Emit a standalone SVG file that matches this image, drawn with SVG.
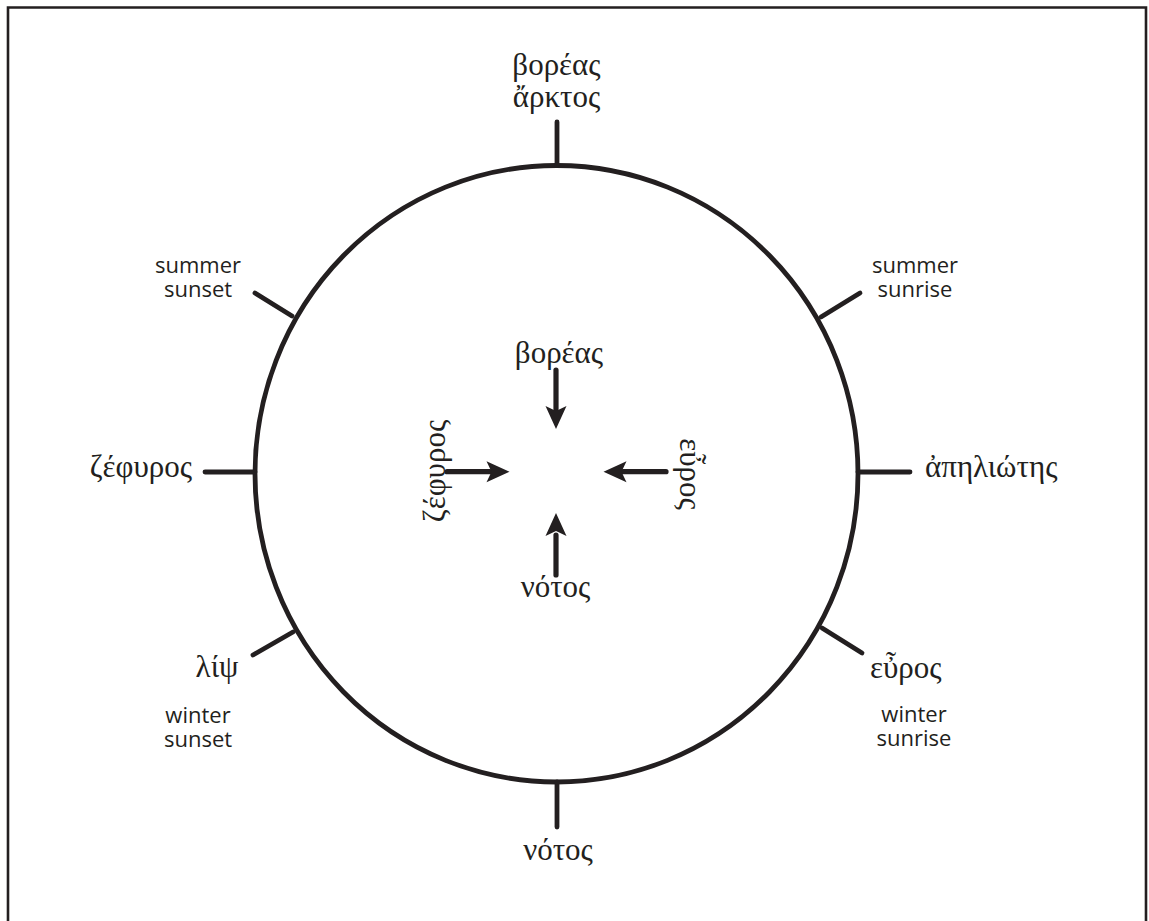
<svg xmlns="http://www.w3.org/2000/svg" width="1149" height="921" viewBox="0 0 1149 921">
  <style>
    .gr { font-family: "Liberation Serif", "DejaVu Serif", serif; font-size: 31px; fill: #231f20; }
    .en { font-family: "Open Sans", "Liberation Sans", sans-serif; font-size: 22px; fill: #231f20; }
    .ln { stroke: #231f20; stroke-width: 4.8; fill: none; stroke-linecap: round; }
    .ar { stroke: #231f20; stroke-width: 5.2; fill: none; stroke-linecap: round; }
    .hd { fill: #231f20; }
  </style>
  <rect x="0" y="0" width="1149" height="921" fill="#ffffff"/>
  <path d="M8 921 V7.5 H1146 V921" fill="none" stroke="#231f20" stroke-width="2.6"/>

  <g id="circle">
    <ellipse cx="556.5" cy="473.75" rx="301.5" ry="308.25" class="ln"/>
  </g>

  <g id="connectors">
    <line x1="557" y1="122" x2="557" y2="165" class="ln"/>
    <line x1="557" y1="782" x2="557" y2="827" class="ln"/>
    <line x1="205" y1="472" x2="255" y2="472" class="ln"/>
    <line x1="858" y1="472" x2="910" y2="472" class="ln"/>
    <line x1="255" y1="293" x2="292" y2="316" class="ln"/>
    <line x1="821" y1="317" x2="860" y2="293" class="ln"/>
    <line x1="293" y1="632" x2="253" y2="655" class="ln"/>
    <line x1="822" y1="628" x2="862" y2="653" class="ln"/>

    <line x1="556" y1="370" x2="556" y2="410" class="ar"/>
    <polygon points="556,429 545.5,406 556,411 566.5,406" class="hd"/>
    <line x1="556" y1="575" x2="556" y2="535" class="ar"/>
    <polygon points="556,513 545.5,536 556,531 566.5,536" class="hd"/>
    <line x1="447" y1="471.7" x2="490" y2="471.7" class="ar"/>
    <polygon points="509.5,471.7 486.5,461.2 491.5,471.7 486.5,482.2" class="hd"/>
    <line x1="666" y1="471.7" x2="623" y2="471.7" class="ar"/>
    <polygon points="603.5,471.7 626.5,461.2 621.5,471.7 626.5,482.2" class="hd"/>
  </g>

  <g id="north">
    <text x="556.5" y="75" text-anchor="middle" class="gr">βορέας</text>
    <text x="556.5" y="107" text-anchor="middle" class="gr">ἄρκτος</text>
  </g>
  <g id="summer-sunset">
    <text x="198" y="273" text-anchor="middle" class="en">summer</text>
    <text x="198" y="297" text-anchor="middle" class="en">sunset</text>
  </g>
  <g id="summer-sunrise">
    <text x="915" y="273" text-anchor="middle" class="en">summer</text>
    <text x="915" y="297" text-anchor="middle" class="en">sunrise</text>
  </g>
  <g id="west">
    <text x="192" y="477" text-anchor="end" class="gr">ζέφυρος</text>
  </g>
  <g id="east">
    <text x="925" y="477" class="gr">ἀπηλιώτης</text>
  </g>
  <g id="winter-sunset">
    <text x="217" y="677" text-anchor="middle" class="gr">λίψ</text>
    <text x="198" y="723" text-anchor="middle" class="en">winter</text>
    <text x="198" y="747" text-anchor="middle" class="en">sunset</text>
  </g>
  <g id="winter-sunrise">
    <text x="870" y="678" class="gr">εὖρος</text>
    <text x="914" y="722" text-anchor="middle" class="en">winter</text>
    <text x="914" y="746" text-anchor="middle" class="en">sunrise</text>
  </g>
  <g id="south">
    <text x="558" y="860" text-anchor="middle" class="gr">νότος</text>
  </g>
  <g id="center-north">
    <text x="559" y="363" text-anchor="middle" class="gr">βορέας</text>
  </g>
  <g id="center-south">
    <text x="555.5" y="597" text-anchor="middle" class="gr">νότος</text>
  </g>
  <g id="center-west">
    <text transform="translate(445 471) rotate(-90)" text-anchor="middle" class="gr">ζέφυρος</text>
  </g>
  <g id="center-east">
    <text transform="translate(680 474) rotate(90)" text-anchor="middle" class="gr">εὖρος</text>
  </g>
</svg>
